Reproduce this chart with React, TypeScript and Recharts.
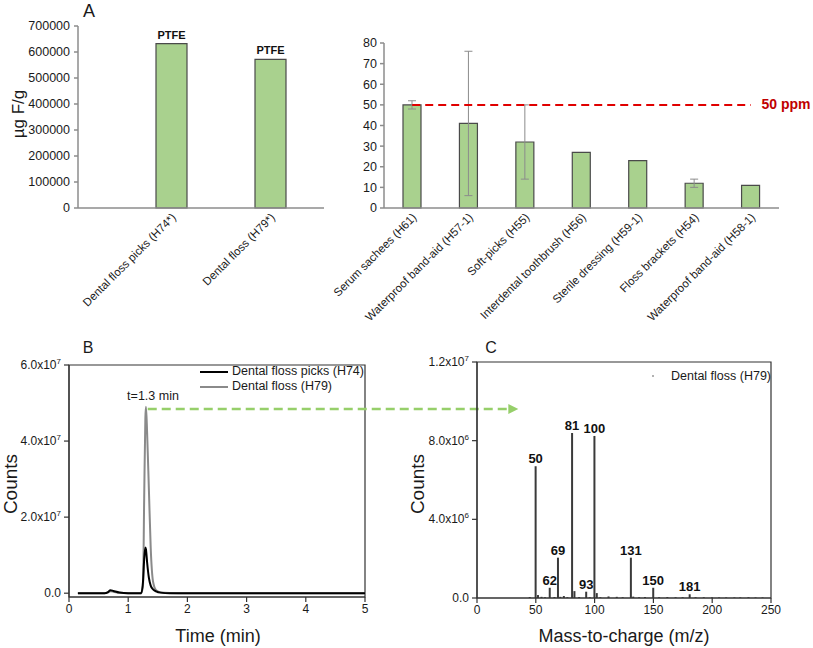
import React from 'react';
import {
  BarChart, Bar, XAxis, YAxis, LabelList, ErrorBar, ComposedChart, Line, LineChart,
  ReferenceArea, ReferenceLine, ReferenceDot,
} from 'recharts';

// ---------- Panel A (left) ----------
const flossNames = ['Dental floss picks (H74*)', 'Dental floss (H79*)'];
const flossValues = [632000, 572000];
const flossTags = ['PTFE', 'PTFE'];
const flossTicks = [0, 100000, 200000, 300000, 400000, 500000, 600000, 700000];

// ---------- Panel A (right) ----------
const productNames = [
  'Serum sachees (H61)',
  'Waterproof band-aid (H57-1)',
  'Soft-picks (H55)',
  'Interdental toothbrush  (H56)',
  'Sterile dressing (H59-1)',
  'Floss brackets (H54)',
  'Waterproof band-aid (H58-1)',
];
const productValues = [50, 41, 32, 27, 23, 12, 11];
const productErrors = [2, 35, 18, 0, 0, 2, 0];
const limitPpm = 50;
const productTicks = [0, 10, 20, 30, 40, 50, 60, 70, 80];

// ---------- Panel B ----------
const timeMin = [0.15, 0.6, 0.66, 0.7, 0.75, 0.85, 1.0, 1.22, 1.25, 1.27, 1.29, 1.3, 1.32, 1.35, 1.38, 1.42, 1.47, 1.55, 1.7, 2.0, 3.0, 4.0, 5.0];
const countsH74 = [0, 0, 0.3e6, 0.8e6, 0.6e6, 0.2e6, 0, 0, 3e6, 9e6, 12e6, 11.5e6, 8e6, 4e6, 2e6, 1e6, 0.5e6, 0.15e6, 0, 0, 0, 0, 0];
const countsH79 = [0, 0, 0.2e6, 0.5e6, 0.4e6, 0.1e6, 0, 0, 2e6, 25e6, 46e6, 49e6, 42e6, 27e6, 12e6, 3e6, 0.8e6, 0.2e6, 0.05e6, 0, 0, 0, 0];
const timeTicks = [0, 1, 2, 3, 4, 5];
const countsBTicks = [0, 2e7, 4e7, 6e7];
const seriesB = [
  { key: 'h74', name: 'Dental floss picks (H74)', color: '#000000' },
  { key: 'h79', name: 'Dental floss (H79)', color: '#8a8a8a' },
];
const peakTime = 1.3;
const peakLevel = 4.84e7;
const arrowEndTime = 7.59;

// ---------- Panel C ----------
const mzValues = [45, 50, 52, 55, 58, 62, 66, 69, 71, 74, 77, 81, 83, 87, 93, 96, 100, 102, 105, 112, 119, 124, 131, 133, 138, 143, 150, 155, 162, 169, 175, 181, 186, 193, 200, 206, 212, 219, 224, 231, 237, 243];
const mzCounts = [0.05e6, 6.7e6, 0.15e6, 0.06e6, 0.04e6, 0.52e6, 0.05e6, 2.05e6, 0.06e6, 0.1e6, 0.04e6, 8.39e6, 0.35e6, 0.05e6, 0.32e6, 0.04e6, 8.24e6, 0.25e6, 0.04e6, 0.08e6, 0.06e6, 0.04e6, 2.05e6, 0.07e6, 0.04e6, 0.05e6, 0.52e6, 0.04e6, 0.05e6, 0.04e6, 0.04e6, 0.19e6, 0.04e6, 0.04e6, 0.03e6, 0.03e6, 0.03e6, 0.03e6, 0.03e6, 0.04e6, 0.03e6, 0.03e6];
const mzTags = ['', '50', '', '', '', '62', '', '69', '', '', '', '81', '', '', '93', '', '100', '', '', '', '', '', '131', '', '', '', '150', '', '', '', '', '181', '', '', '', '', '', '', '', '', '', ''];
const mzTicks = [0, 50, 100, 150, 200, 250];
const countsCTicks = [0, 4e6, 8e6, 1.2e7];

// ---------- built tables ----------
const dataA1 = flossNames.map((name, i) => ({ name, value: flossValues[i], tag: flossTags[i] }));
const dataA2 = productNames.map((name, i) => ({ name, value: productValues[i], err: productErrors[i], limit: limitPpm }));
const dataB = timeMin.map((t, i) => ({ t, h74: countsH74[i], h79: countsH79[i] }));
const dataC = mzValues.map((mz, i) => ({ mz, counts: mzCounts[i], tag: mzTags[i] }));

const FONT = '"Liberation Sans", Arial, sans-serif';
const TXT = '#1a1a1a';

const RotTick = (props: any) => {
  const { x, y, payload } = props;
  return (
    <g transform={`translate(${x + 3},${y})`}>
      <text x={0} y={0} dy={3} textAnchor="end" transform="rotate(-45)" fontSize={11.5} fill={TXT} fontFamily={FONT}>
        {payload.value}
      </text>
    </g>
  );
};

const SciTick = (props: any) => {
  const { x, y, payload } = props;
  const v = payload.value;
  if (v === 0) {
    return <text x={x} y={y} dy={4} textAnchor="end" fontSize={12} fill={TXT} fontFamily={FONT}>0.0</text>;
  }
  const exp = Math.floor(Math.log10(v) + 1e-9);
  const mant = (v / Math.pow(10, exp)).toFixed(1);
  return (
    <text x={x} y={y} dy={4} textAnchor="end" fontSize={12} fill={TXT} fontFamily={FONT}>
      {mant}x10<tspan dy={-5} fontSize={8}>{exp}</tspan>
    </text>
  );
};

const ArrowHead = (p: any) => (
  <polygon points={`${p.cx},${p.cy} ${p.cx - 10},${p.cy - 5} ${p.cx - 10},${p.cy + 5}`} fill="#96cf6a" />
);

const abs = (left: number, top: number, extra: any = {}) => ({ position: 'absolute' as const, left, top, ...extra });
const centered = (x: number, y: number, extra: any = {}) => ({
  position: 'absolute' as const, left: x, top: y, transform: 'translate(-50%,-50%)', whiteSpace: 'nowrap' as const, lineHeight: 1, ...extra,
});
const rotated = (x: number, y: number, extra: any = {}) => ({
  position: 'absolute' as const, left: x, top: y, transform: 'translate(-50%,-50%) rotate(-90deg)', whiteSpace: 'nowrap' as const, lineHeight: 1, ...extra,
});

export default function App() {
  const axisA = { stroke: '#8c8c8c', strokeWidth: 1.5 };
  const axisB = { stroke: '#333333', strokeWidth: 1.2 };
  const tickA = { fontSize: 12.5, fill: TXT, fontFamily: FONT };
  return (
    <div style={{ position: 'absolute', left: 0, top: 0, width: 813, height: 648, background: '#ffffff', fontFamily: FONT, color: TXT, overflow: 'hidden' }}>
      {/* Panel A left */}
      <div style={abs(0, 0)}>
        <BarChart width={340} height={330} data={dataA1} margin={{ top: 26, right: 16, left: 0, bottom: 0 }}>
          <XAxis dataKey="name" interval={0} height={122} tick={<RotTick />} tickLine={false} axisLine={axisA} padding={{ left: 44, right: 4 }} />
          <YAxis width={78} domain={[0, 700000]} ticks={flossTicks} tick={tickA} tickSize={4} tickMargin={4} axisLine={axisA} tickLine={axisA} />
          <Bar dataKey="value" barSize={31} fill="#a9d18e" stroke="#4a4a4a" strokeWidth={1.2} isAnimationActive={false}>
            <LabelList dataKey="tag" position="top" offset={5} fontSize={11} fontWeight="bold" fill="#111" fontFamily={FONT} />
          </Bar>
        </BarChart>
      </div>

      {/* Panel A right */}
      <div style={abs(300, 0)}>
        <ComposedChart width={513} height={330} data={dataA2} margin={{ top: 43, right: 34, left: 0, bottom: 0 }}>
          <XAxis dataKey="name" interval={0} height={122} tick={<RotTick />} tickLine={false} axisLine={axisA} />
          <YAxis width={84} domain={[0, 80]} ticks={productTicks} tick={tickA} tickSize={4} tickMargin={3} axisLine={axisA} tickLine={axisA} />
          <Bar dataKey="value" barSize={18} fill="#a9d18e" stroke="#4a4a4a" strokeWidth={1.2} isAnimationActive={false}>
            <ErrorBar dataKey="err" width={4} stroke="#8c8c8c" strokeWidth={1} direction="y" />
          </Bar>
          <Line dataKey="limit" stroke="#e00000" strokeWidth={2} strokeDasharray="8 5" dot={false} activeDot={false} isAnimationActive={false} />
        </ComposedChart>
      </div>

      {/* Panel B */}
      <div style={abs(0, 330)}>
        <LineChart width={530} height={318} data={dataB} margin={{ top: 35, right: 165, left: 0, bottom: 0 }}>
          <XAxis type="number" dataKey="t" domain={[0, 5]} ticks={timeTicks} height={51} tick={{ fontSize: 12, fill: TXT, fontFamily: FONT }} tickSize={5} tickMargin={2} axisLine={axisB} tickLine={axisB} />
          <YAxis type="number" width={69} domain={[-1e6, 6e7]} ticks={countsBTicks} tick={<SciTick />} tickSize={5} tickMargin={3} axisLine={axisB} tickLine={axisB} />
          <ReferenceArea x1={0} x2={5} y1={-1e6} y2={6e7} fill="none" stroke="#333" strokeWidth={1.2} ifOverflow="visible" />
          {[...seriesB].reverse().map((s) => (
            <Line key={s.key} type="monotone" dataKey={s.key} name={s.name} stroke={s.color} strokeWidth={2} dot={false} activeDot={false} isAnimationActive={false} />
          ))}
          <ReferenceLine segment={[{ x: peakTime + 0.03, y: peakLevel }, { x: arrowEndTime - 0.15, y: peakLevel }]} stroke="#96cf6a" strokeWidth={2.5} strokeDasharray="9 5" ifOverflow="visible" />
          <ReferenceDot x={arrowEndTime} y={peakLevel} ifOverflow="visible" shape={ArrowHead} />
        </LineChart>
      </div>

      {/* Panel C */}
      <div style={abs(410, 330)}>
        <ComposedChart width={403} height={318} data={dataC} margin={{ top: 32, right: 42, left: 0, bottom: 0 }}>
          <XAxis type="number" dataKey="mz" domain={[0, 250]} ticks={mzTicks} height={50} tick={{ fontSize: 12, fill: TXT, fontFamily: FONT }} tickSize={5} tickMargin={2} axisLine={axisB} tickLine={axisB} />
          <YAxis type="number" width={67} domain={[0, 1.2e7]} ticks={countsCTicks} tick={<SciTick />} tickSize={5} tickMargin={3} axisLine={axisB} tickLine={axisB} />
          <ReferenceArea x1={0} x2={250} y1={0} y2={1.2e7} fill="none" stroke="#333" strokeWidth={1.2} ifOverflow="visible" />
          <Bar dataKey="counts" barSize={2} fill="#3a3a3a" isAnimationActive={false}>
            <LabelList dataKey="tag" position="top" offset={3} fontSize={13} fontWeight="bold" fill="#111" fontFamily={FONT} />
          </Bar>
        </ComposedChart>
      </div>

      {/* Text overlays */}
      <div style={centered(89, 11, { fontSize: 18 })}>A</div>
      <div style={rotated(18, 114, { fontSize: 17 })}>µg F/g</div>
      <div style={centered(786, 104, { fontSize: 14, fontWeight: 'bold', color: '#c00000' })}>50 ppm</div>

      <div style={centered(88, 348, { fontSize: 16 })}>B</div>
      <div style={centered(491, 348, { fontSize: 16 })}>C</div>
      <div style={centered(153, 396, { fontSize: 12.5 })}>t=1.3 min</div>
      <div style={rotated(10, 484, { fontSize: 19 })}>Counts</div>
      <div style={rotated(417, 484, { fontSize: 19 })}>Counts</div>
      <div style={centered(218, 636, { fontSize: 18 })}>Time (min)</div>
      <div style={centered(624, 636, { fontSize: 18 })}>Mass-to-charge (m/z)</div>

      {/* Legend B */}
      <div style={abs(200, 364, { fontSize: 12.5, lineHeight: '15px' })}>
        {seriesB.map((s) => (
          <div key={s.key} style={{ display: 'flex', alignItems: 'center', whiteSpace: 'nowrap' }}>
            <svg width={28} height={4} style={{ marginRight: 4 }}>
              <line x1={0} y1={2} x2={28} y2={2} stroke={s.color} strokeWidth={2} />
            </svg>
            <span>{s.name}</span>
          </div>
        ))}
      </div>

      {/* Legend C */}
      <div style={abs(650, 368, { fontSize: 12.5, lineHeight: '16px', display: 'flex', alignItems: 'center', whiteSpace: 'nowrap' })}>
        <svg width={6} height={4} style={{ marginRight: 15 }}>
          <circle cx={3} cy={2} r={1} fill="#999" />
        </svg>
        <span>{seriesB[1].name}</span>
      </div>
    </div>
  );
}
